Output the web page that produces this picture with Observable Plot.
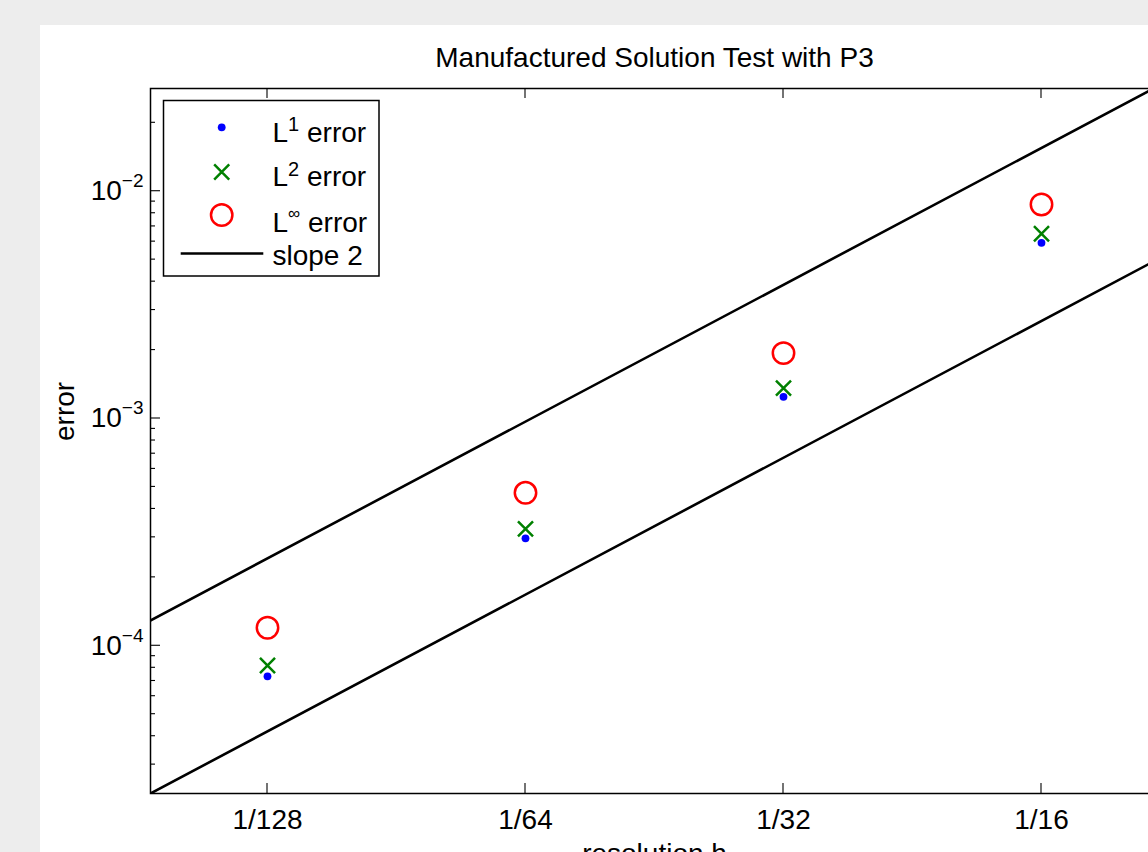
<!DOCTYPE html>
<html>
<head>
<meta charset="utf-8">
<script src="https://cdn.jsdelivr.net/npm/d3@7"></script>
<script src="https://cdn.jsdelivr.net/npm/@observablehq/plot@0.6"></script>
<style>
  html, body { margin: 0; padding: 0; background: #ededed; overflow: hidden; width: 1148px; height: 852px; }
  #panel { position: absolute; left: 40px; top: 25px; width: 1200px; height: 900px; background: #fff; }
  #panel svg { display: block; }
</style>
</head>
<body>
<div id="panel"></div>
<script>
// ---- data ----
const resolutions = [1/128, 1/64, 1/32, 1/16];
const resolutionLabels = ["1/128", "1/64", "1/32", "1/16"];
const errL1   = [7.34e-5, 2.97e-4, 1.246e-3, 5.93e-3];
const errL2   = [8.19e-5, 3.27e-4, 1.36e-3,  6.50e-3];
const errLinf = [1.20e-4, 4.71e-4, 1.94e-3,  8.74e-3];
const slopeH     = [1/256, 1/8];
const slopeUpper = [6.06e-5, 0.0620];
const slopeLower = [1.05e-5, 0.01075];
const yTickValues = [1e-4, 1e-3, 1e-2];
const yTickExponents = ["\u22124", "\u22123", "\u22122"];
const xDomain = [Math.pow(2, -7.4535), Math.pow(2, -3.5465)];
const yDomain = [2.239e-5, 0.02831];
const titleText = "Manufactured Solution Test with P3";
const xLabel = "resolution h";
const yLabel = "error";

const FONT = '"Liberation Sans", Arial, Helvetica, sans-serif';
const FS = 28;

const tL1 = resolutions.map((h, i) => ({h, e: errL1[i]}));
const tL2 = resolutions.map((h, i) => ({h, e: errL2[i]}));
const tLi = resolutions.map((h, i) => ({h, e: errLinf[i]}));
const tUp = slopeH.map((h, i) => ({h, e: slopeUpper[i]}));
const tLo = slopeH.map((h, i) => ({h, e: slopeLower[i]}));

const R_DOT = 3.9, R_X = 6.9, R_O = 10.7, SW = 2.5;

const plot = Plot.plot({
  width: 1168, height: 880,
  marginLeft: 110, marginRight: 50, marginTop: 63, marginBottom: 112,
  style: {fontFamily: FONT, fontSize: FS + "px", color: "#000", background: "transparent"},
  x: {type: "log", base: 2, domain: xDomain},
  y: {type: "log", domain: yDomain},
  marks: [
    Plot.line(tUp, {x: "h", y: "e", stroke: "#000", strokeWidth: 2.6, clip: true}),
    Plot.line(tLo, {x: "h", y: "e", stroke: "#000", strokeWidth: 2.6, clip: true}),
    Plot.dot(tL1, {x: "h", y: "e", r: R_DOT, fill: "#0000ff", stroke: null}),
    Plot.dot(tL2, {x: "h", y: "e", symbol: "times", r: R_X, stroke: "#008000", strokeWidth: SW}),
    Plot.dot(tLi, {x: "h", y: "e", r: R_O, stroke: "#ff0000", strokeWidth: SW, fill: "none"}),
    Plot.axisX(resolutions, {anchor: "bottom", tickSize: 0, tickPadding: 16, fontSize: FS,
      tickFormat: d => resolutionLabels[resolutions.indexOf(d)], label: null}),
    Plot.axisY(yTickValues, {anchor: "left", tickSize: 0, tickPadding: 7, fontSize: FS,
      tickFormat: d => "10|" + yTickExponents[yTickValues.indexOf(d)], label: null}),
    Plot.frame({stroke: "#000", strokeWidth: 1.5}),
    Plot.text([titleText], {text: d => d, frameAnchor: "top", lineAnchor: "bottom", dy: -22, fontSize: FS}),
    Plot.text([xLabel], {text: d => d, frameAnchor: "bottom", lineAnchor: "bottom", dy: 69, fontSize: FS}),
    Plot.text([yLabel], {text: d => d, frameAnchor: "left", lineAnchor: "bottom", rotate: -90, dx: -77, fontSize: FS})
  ]
});

document.getElementById("panel").appendChild(plot);
const svg = d3.select(plot);

// superscript exponents on y tick labels
svg.selectAll('g[aria-label="y-axis tick label"] text').each(function () {
  const parts = this.textContent.split("|");
  const t = d3.select(this);
  t.text(null);
  t.append("tspan").text(parts[0]);
  t.append("tspan").attr("dy", -13).attr("font-size", 19).text(parts[1]);
});

// inward ticks (MATLAB style) using Plot's scales
const sx = plot.scale("x"), sy = plot.scale("y");
const [xl, xr] = sx.range;
const [yb, yt] = sy.range;
const tg = svg.append("g").attr("stroke", "#000").attr("stroke-width", 1.1);
for (const v of resolutions) {
  const x = sx.apply(v);
  tg.append("line").attr("x1", x).attr("x2", x).attr("y1", yb).attr("y2", yb - 10);
  tg.append("line").attr("x1", x).attr("x2", x).attr("y1", yt).attr("y2", yt + 10);
}
for (const v of d3.scaleLog().domain(yDomain).ticks()) {
  const lg = Math.log10(v);
  const major = Math.abs(lg - Math.round(lg)) < 1e-9;
  const len = major ? 10 : 5;
  const y = sy.apply(v);
  tg.append("line").attr("x1", xl).attr("x2", xl + len).attr("y1", y).attr("y2", y);
  tg.append("line").attr("x1", xr).attr("x2", xr - len).attr("y1", y).attr("y2", y);
}

// legend
const lg = svg.append("g").attr("font-family", FONT).attr("font-size", FS).attr("text-anchor", "start");
lg.append("rect").attr("x", 123.5).attr("y", 75.5).attr("width", 215.5).attr("height", 175.5)
  .attr("fill", "#fff").attr("stroke", "#000").attr("stroke-width", 1.5);
const mx = 181.7;
lg.append("circle").attr("cx", mx).attr("cy", 102.3).attr("r", R_DOT).attr("fill", "#0000ff");
lg.append("path").attr("transform", `translate(${mx},147)`)
  .attr("d", d3.symbol(d3.symbolTimes, Math.PI * R_X * R_X)())
  .attr("fill", "none").attr("stroke", "#008000").attr("stroke-width", SW);
lg.append("circle").attr("cx", mx).attr("cy", 190).attr("r", R_O)
  .attr("fill", "none").attr("stroke", "#ff0000").attr("stroke-width", SW);
lg.append("line").attr("x1", 140.7).attr("x2", 223.3).attr("y1", 228.5).attr("y2", 228.5)
  .attr("stroke", "#000").attr("stroke-width", 2.6);
const entries = [
  {base: "L", sup: "1", rest: " error", y: 117, sz: 20, dy: -11},
  {base: "L", sup: "2", rest: " error", y: 161, sz: 20, dy: -10},
  {base: "L", sup: "\u221E", rest: " error", y: 207, sz: 17, dy: -13}
];
for (const e of entries) {
  const t = lg.append("text").attr("x", 232.5).attr("y", e.y).attr("text-anchor", "start");
  t.append("tspan").text(e.base);
  t.append("tspan").attr("dy", e.dy).attr("font-size", e.sz).text(e.sup);
  t.append("tspan").attr("dy", -e.dy).text(e.rest);
}
lg.append("text").attr("x", 232.5).attr("y", 240).attr("text-anchor", "start").text("slope 2");
</script>
</body>
</html>
